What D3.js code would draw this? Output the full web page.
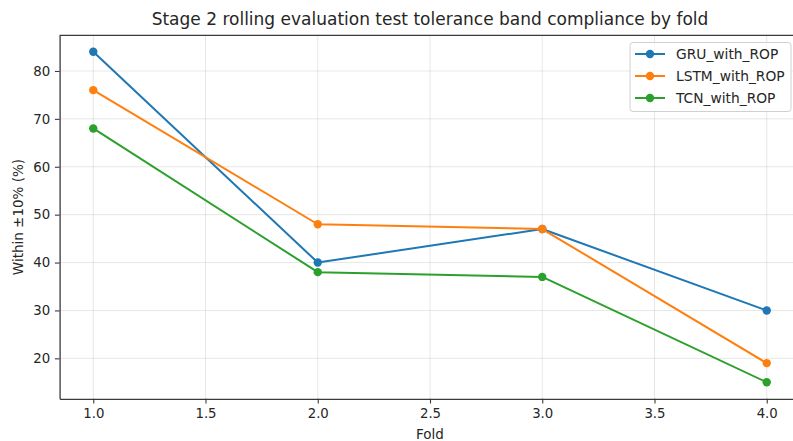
<!DOCTYPE html>
<html>
<head>
<meta charset="utf-8">
<script src="https://cdn.jsdelivr.net/npm/d3@7"></script>
<style>
  html, body { margin: 0; padding: 0; background: #fff; }
  svg { display: block; font-family: "DejaVu Sans", sans-serif; }
</style>
</head>
<body>
<svg id="chart" width="793" height="441"></svg>
<script>
// Fold indices and per-model compliance (% of predictions within ±10%)
const folds = [1, 2, 3, 4];
const gruWithRop = [84, 40, 47, 30];
const lstmWithRop = [76, 48, 47, 19];
const tcnWithRop = [68, 38, 37, 15];
const seriesNames = ["GRU_with_ROP", "LSTM_with_ROP", "TCN_with_ROP"];
const seriesColors = ["#1f77b4", "#ff7f0e", "#2ca02c"];
const xTicks = [1.0, 1.5, 2.0, 2.5, 3.0, 3.5, 4.0];
const yTicks = [20, 30, 40, 50, 60, 70, 80];

const series = [gruWithRop, lstmWithRop, tcnWithRop].map((vals, i) => ({
  name: seriesNames[i],
  color: seriesColors[i],
  points: folds.map((f, j) => ({ x: f, y: vals[j] }))
}));

const svg = d3.select("#chart");
const plot = { left: 59.6, right: 800.4, top: 35.3, bottom: 398.8 };

// Axis limits padded by 5% of the data span on each side
const allY = series.flatMap(s => s.points.map(p => p.y));
const [yMin, yMax] = d3.extent(allY);
const yPad = (yMax - yMin) * 0.05;
const [xMin, xMax] = d3.extent(folds);
const xPad = (xMax - xMin) * 0.05;

const x = d3.scaleLinear().domain([xMin - xPad, xMax + xPad]).range([plot.left, plot.right]);
const y = d3.scaleLinear().domain([yMin - yPad, yMax + yPad]).range([plot.bottom, plot.top]);

// Grid
const grid = svg.append("g").attr("stroke", "#b0b0b0").attr("stroke-opacity", 0.3).attr("stroke-width", 1);
xTicks.forEach(t => grid.append("line")
  .attr("x1", x(t)).attr("x2", x(t)).attr("y1", plot.top).attr("y2", plot.bottom));
yTicks.forEach(t => grid.append("line")
  .attr("x1", plot.left).attr("x2", plot.right).attr("y1", y(t)).attr("y2", y(t)));

// Axes
const xAxis = svg.append("g")
  .attr("transform", `translate(0,${plot.bottom})`)
  .call(d3.axisBottom(x).tickValues(xTicks).tickFormat(d3.format(".1f")).tickSizeInner(4.7).tickSizeOuter(0).tickPadding(4.7));
const yAxis = svg.append("g")
  .attr("transform", `translate(${plot.left},0)`)
  .call(d3.axisLeft(y).tickValues(yTicks).tickFormat(d3.format("d")).tickSizeInner(4.7).tickSizeOuter(0).tickPadding(4.7));
[xAxis, yAxis].forEach(a => {
  a.select(".domain").attr("stroke", "#3a3a3a").attr("stroke-width", 1.3);
  a.selectAll(".tick line").attr("stroke", "#3a3a3a").attr("stroke-width", 1.1);
  a.selectAll(".tick text").attr("fill", "#262626").attr("font-size", 13.3)
    .attr("font-family", "DejaVu Sans, sans-serif");
});

// Top and right spines
svg.append("line").attr("x1", plot.left).attr("x2", plot.right)
  .attr("y1", plot.top).attr("y2", plot.top).attr("stroke", "#3a3a3a").attr("stroke-width", 1.3);
svg.append("line").attr("x1", plot.right).attr("x2", plot.right)
  .attr("y1", plot.top).attr("y2", plot.bottom).attr("stroke", "#3a3a3a").attr("stroke-width", 1.3);

// Series lines and markers
const line = d3.line().x(d => x(d.x)).y(d => y(d.y));
series.forEach(s => {
  svg.append("path").datum(s.points)
    .attr("fill", "none").attr("stroke", s.color).attr("stroke-width", 2)
    .attr("stroke-linejoin", "round").attr("d", line);
  svg.append("g").selectAll("circle").data(s.points).join("circle")
    .attr("cx", d => x(d.x)).attr("cy", d => y(d.y)).attr("r", 4.2)
    .attr("fill", s.color);
});

// Title and axis labels
svg.append("text").attr("x", (plot.left + plot.right) / 2).attr("y", 25)
  .attr("text-anchor", "middle").attr("font-size", 17).attr("fill", "#262626")
  .text("Stage 2 rolling evaluation test tolerance band compliance by fold");
svg.append("text").attr("x", (plot.left + plot.right) / 2).attr("y", 439)
  .attr("text-anchor", "middle").attr("font-size", 13.5).attr("fill", "#262626")
  .text("Fold");
svg.append("text")
  .attr("transform", `translate(23,${(plot.top + plot.bottom) / 2}) rotate(-90)`)
  .attr("text-anchor", "middle").attr("font-size", 13.5).attr("fill", "#262626")
  .text("Within ±10% (%)");

// Legend
const legend = svg.append("g");
legend.append("rect").attr("x", 630).attr("y", 42.5).attr("width", 161).attr("height", 69)
  .attr("rx", 3).attr("fill", "#fff").attr("fill-opacity", 0.8)
  .attr("stroke", "#d0d0d0").attr("stroke-width", 1);
series.forEach((s, i) => {
  const ly = 54 + i * 22;
  legend.append("line").attr("x1", 635).attr("x2", 665).attr("y1", ly).attr("y2", ly)
    .attr("stroke", s.color).attr("stroke-width", 2);
  legend.append("circle").attr("cx", 650).attr("cy", ly).attr("r", 4.2).attr("fill", s.color);
  legend.append("text").attr("x", 676).attr("y", ly).attr("dy", "0.35em")
    .attr("font-size", 13.8).attr("fill", "#262626").text(s.name);
});
</script>
</body>
</html>
